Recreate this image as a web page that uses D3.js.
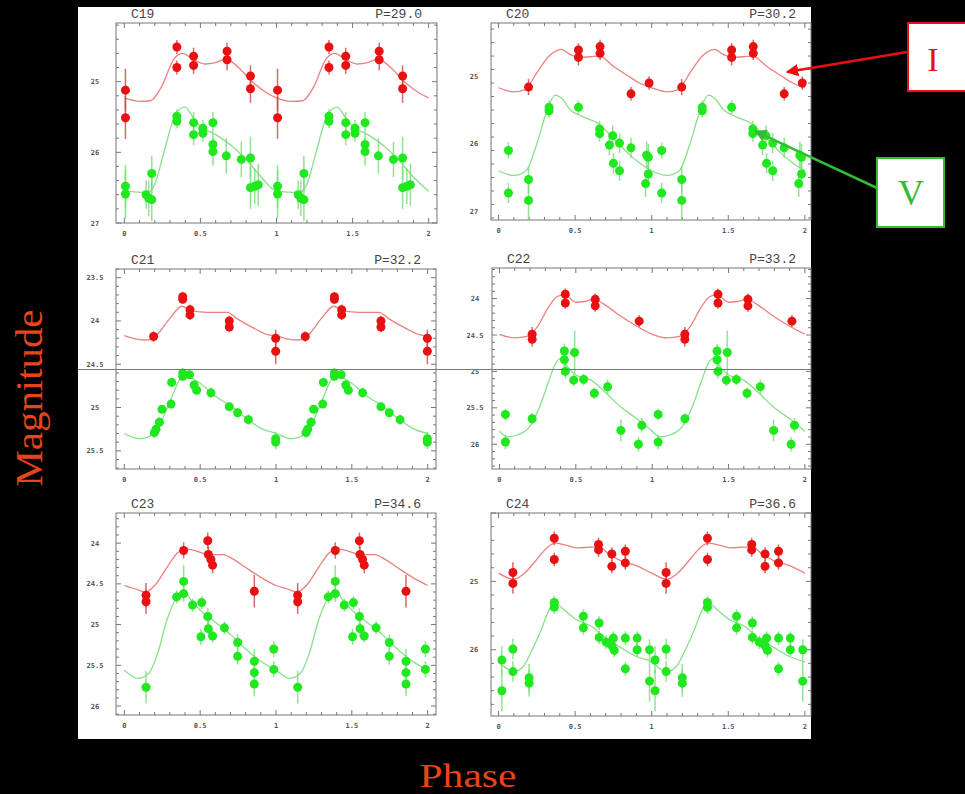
<!DOCTYPE html>
<html>
<head>
<meta charset="utf-8">
<script src="https://cdn.jsdelivr.net/npm/d3@7"></script>
<style>
  body { margin: 0; background: #000; }
  svg { display: block; }
</style>
</head>
<body>
<svg id="chart" width="965" height="794"></svg>
<script>
// star ids and periods (days)
var starNames = ["C19", "C20", "C21", "C22", "C23", "C24"];
var periods = ["29.0", "30.2", "32.2", "33.2", "34.6", "36.6"];

// magnitude range shown on each panel (top, bottom) and labelled ticks
var magRanges = [[24.17, 27], [24.21, 27.13], [23.4, 25.71], [23.58, 26.34], [23.63, 26.11], [24.0, 26.97]];
var magTicks = [[25, 26, 27], [25, 26, 27], [23.5, 24, 24.5, 25, 25.5], [24, 24.5, 25, 25.5, 26], [24, 24.5, 25, 25.5, 26], [25, 26]];
var magStep = [1, 1, 0.5, 0.5, 0.5, 1];

var phaseTicks = [0, 0.5, 1, 1.5, 2];
var phaseLabels = ["0", "0.5", "1", "1.5", "2"];

// observations: [phase, mag, error]
var c19_I = [[0.007,25.12,0.3],[0.007,25.51,0.3],[0.345,24.51,0.1],[0.345,24.80,0.1],[0.455,24.64,0.12],[0.455,24.77,0.12],[0.675,24.57,0.12],[0.675,24.69,0.15],[0.829,24.92,0.15],[0.829,25.10,0.2]];
var c19_V = [[0.007,26.48,0.3],[0.007,26.59,0.35],[0.143,26.60,0.2],[0.16,26.65,0.25],[0.18,26.67,0.3],[0.18,26.30,0.25],[0.345,25.49,0.1],[0.345,25.56,0.1],[0.455,25.58,0.15],[0.455,25.75,0.15],[0.516,25.66,0.12],[0.516,25.73,0.12],[0.582,25.58,0.15],[0.582,25.89,0.15],[0.582,25.99,0.2],[0.67,26.05,0.25],[0.769,26.10,0.25],[0.829,26.08,0.3],[0.829,26.50,0.3],[0.857,26.48,0.25],[0.88,26.46,0.3]];
var c20_I = [[0.196,25.16,0.12],[0.522,24.61,0.1],[0.522,24.72,0.12],[0.663,24.56,0.1],[0.663,24.66,0.1],[0.865,25.26,0.1],[0.983,25.10,0.1]];
var c20_V = [[0.065,26.10,0.12],[0.065,26.73,0.15],[0.196,26.53,0.2],[0.196,26.84,0.3],[0.33,25.46,0.1],[0.33,25.51,0.1],[0.522,25.46,0.1],[0.66,25.78,0.12],[0.66,25.85,0.12],[0.724,26.02,0.15],[0.746,25.88,0.15],[0.75,26.29,0.15],[0.79,25.99,0.15],[0.79,26.40,0.15],[0.865,26.06,0.15],[0.967,26.17,0.2],[0.978,26.20,0.2],[0.978,26.45,0.2],[0.96,26.59,0.2]];
var c21_I = [[0.193,24.18,0.06],[0.385,23.72,0.05],[0.385,23.75,0.05],[0.433,23.87,0.06],[0.433,23.93,0.06],[0.692,24.00,0.06],[0.692,24.07,0.06],[0.998,24.20,0.1],[0.998,24.35,0.15]];
var c21_V = [[0.198,25.29,0.06],[0.209,25.25,0.06],[0.231,25.17,0.06],[0.248,25.02,0.05],[0.308,24.96,0.05],[0.312,24.71,0.05],[0.385,24.60,0.05],[0.385,24.64,0.05],[0.43,24.62,0.05],[0.46,24.74,0.05],[0.477,24.80,0.05],[0.571,24.83,0.06],[0.692,24.99,0.05],[0.747,25.06,0.05],[0.818,25.14,0.06],[0.998,25.36,0.08],[0.998,25.40,0.08]];
var c22_I = [[0.214,24.49,0.1],[0.214,24.56,0.1],[0.431,23.94,0.08],[0.431,24.06,0.08],[0.627,24.01,0.08],[0.627,24.10,0.08],[0.915,24.31,0.08]];
var c22_V = [[0.039,25.59,0.08],[0.039,25.97,0.1],[0.214,25.65,0.08],[0.425,24.72,0.1],[0.425,24.84,0.1],[0.431,25.00,0.1],[0.492,24.74,0.3],[0.486,25.12,0.08],[0.551,25.11,0.08],[0.621,25.30,0.08],[0.708,25.21,0.1],[0.795,25.81,0.15],[0.932,25.74,0.1],[0.91,26.00,0.1]];
var c23_I = [[0.143,24.64,0.15],[0.143,24.72,0.15],[0.391,24.09,0.1],[0.55,23.97,0.1],[0.554,24.14,0.1],[0.571,24.20,0.1],[0.582,24.27,0.1],[0.857,24.59,0.2]];
var c23_V = [[0.143,25.77,0.2],[0.345,24.66,0.08],[0.391,24.62,0.1],[0.391,24.47,0.2],[0.45,24.76,0.08],[0.51,24.73,0.08],[0.505,25.15,0.1],[0.55,24.90,0.1],[0.554,25.05,0.1],[0.582,25.14,0.08],[0.66,25.04,0.08],[0.747,25.22,0.1],[0.747,25.39,0.1],[0.857,25.45,0.15],[0.857,25.59,0.15],[0.857,25.73,0.15],[0.985,25.30,0.1],[0.985,25.55,0.1]];
var c24_I = [[0.094,24.87,0.15],[0.094,25.03,0.15],[0.364,24.37,0.1],[0.364,24.68,0.1],[0.653,24.46,0.1],[0.653,24.54,0.1],[0.74,24.60,0.1],[0.74,24.78,0.1],[0.828,24.56,0.1],[0.828,24.73,0.1]];
var c24_V = [[0.022,26.15,0.2],[0.022,26.60,0.3],[0.094,25.99,0.15],[0.094,26.32,0.15],[0.2,26.41,0.2],[0.2,26.49,0.2],[0.364,25.31,0.1],[0.364,25.38,0.1],[0.554,25.51,0.1],[0.554,25.68,0.1],[0.657,25.61,0.1],[0.657,25.82,0.1],[0.703,25.89,0.1],[0.725,25.91,0.1],[0.74,25.94,0.1],[0.75,25.83,0.1],[0.756,26.01,0.1],[0.828,25.83,0.1],[0.828,26.28,0.1],[0.905,25.83,0.1],[0.905,26.00,0.1],[0.986,26.00,0.15],[0.986,26.46,0.3]];

// template fits, one cycle: [phase, mag]
var c19_Ifit = [[0,25.23],[0.1,25.28],[0.17,25.27],[0.25,25.05],[0.32,24.7],[0.38,24.6],[0.45,24.68],[0.53,24.75],[0.6,24.73],[0.67,24.68],[0.75,24.8],[0.85,25.02],[0.93,25.15]];
var c19_Vfit = [[0,26.55],[0.15,26.57],[0.2,26.45],[0.26,26.0],[0.32,25.55],[0.37,25.38],[0.4,25.36],[0.45,25.5],[0.5,25.63],[0.6,25.75],[0.7,25.9],[0.8,26.1],[0.9,26.35]];
var c20_Ifit = [[0,25.17],[0.1,25.23],[0.17,25.2],[0.25,24.95],[0.33,24.7],[0.41,24.6],[0.47,24.68],[0.53,24.72],[0.6,24.71],[0.66,24.7],[0.75,24.85],[0.85,25.0],[0.92,25.1]];
var c20_Vfit = [[0,26.4],[0.1,26.47],[0.18,26.4],[0.25,26.0],[0.31,25.55],[0.37,25.28],[0.41,25.32],[0.47,25.5],[0.55,25.6],[0.65,25.7],[0.75,25.92],[0.85,26.15],[0.93,26.3]];
var c21_Ifit = [[0,24.17],[0.08,24.21],[0.15,24.22],[0.22,24.15],[0.3,23.97],[0.38,23.83],[0.44,23.88],[0.55,23.9],[0.68,23.9],[0.74,23.97],[0.85,24.08],[0.95,24.16]];
var c21_Vfit = [[0,25.3],[0.1,25.36],[0.2,25.3],[0.26,25.1],[0.32,24.85],[0.38,24.65],[0.44,24.66],[0.5,24.72],[0.6,24.87],[0.7,24.98],[0.8,25.12],[0.9,25.24]];
var c22_Ifit = [[0,24.49],[0.1,24.54],[0.18,24.52],[0.25,24.38],[0.32,24.12],[0.38,23.97],[0.43,23.95],[0.5,24.05],[0.56,24.04],[0.62,24.01],[0.7,24.1],[0.8,24.25],[0.9,24.38]];
var c22_Vfit = [[0,25.82],[0.05,25.9],[0.12,25.87],[0.2,25.75],[0.26,25.5],[0.32,25.15],[0.37,24.88],[0.4,24.82],[0.44,24.92],[0.5,25.05],[0.6,25.12],[0.7,25.3],[0.8,25.5],[0.9,25.65]];
var c23_Ifit = [[0,24.52],[0.07,24.56],[0.14,24.6],[0.2,24.52],[0.28,24.3],[0.35,24.12],[0.41,24.07],[0.48,24.1],[0.55,24.14],[0.65,24.14],[0.72,24.2],[0.8,24.3],[0.9,24.42]];
var c23_Vfit = [[0,25.56],[0.09,25.66],[0.16,25.6],[0.22,25.35],[0.28,24.95],[0.34,24.68],[0.39,24.57],[0.44,24.7],[0.5,24.82],[0.6,24.97],[0.7,25.12],[0.8,25.3],[0.9,25.45]];
var c24_Ifit = [[0,24.88],[0.1,24.97],[0.17,24.88],[0.25,24.68],[0.32,24.5],[0.37,24.44],[0.44,24.47],[0.52,24.51],[0.6,24.5],[0.66,24.5],[0.72,24.6],[0.8,24.7],[0.9,24.77]];
var c24_Vfit = [[0,26.18],[0.05,26.27],[0.1,26.32],[0.16,26.25],[0.22,26.0],[0.28,25.7],[0.33,25.42],[0.37,25.32],[0.43,25.42],[0.5,25.55],[0.6,25.65],[0.7,25.83],[0.8,25.97],[0.9,26.1]];

var obsI = [c19_I, c20_I, c21_I, c22_I, c23_I, c24_I];
var obsV = [c19_V, c20_V, c21_V, c22_V, c23_V, c24_V];
var fitI = [c19_Ifit, c20_Ifit, c21_Ifit, c22_Ifit, c23_Ifit, c24_Ifit];
var fitV = [c19_Vfit, c20_Vfit, c21_Vfit, c22_Vfit, c23_Vfit, c24_Vfit];

// panel frames in pixels [left, right, top, bottom] and phase domain per column
var frames = [[116,437,23,223],[491,811,23,220],[116,436,269,469],[492,811,268,469],[116,436,513,715],[491,811,513,716]];
var colDomain = [[-0.055, 2.055], [-0.049, 2.04]];

var svg = d3.select("#chart");

// white page area
svg.append("rect").attr("x", 78).attr("y", 7).attr("width", 733).attr("height", 732).attr("fill", "#fff");

var defs = svg.append("defs");

// repeat one cycle into two
function twoCycles(pts) {
    var out = [];
    pts.forEach(function(p) { out.push(p.slice()); });
    pts.forEach(function(p) { var q = p.slice(); q[0] += 1; out.push(q); });
    return out;
}
function fitTwoCycles(pts) {
    var out = twoCycles(pts);
    var q = pts[0].slice(); q[0] = 2; out.push(q);
    return out;
}

frames.forEach(function(f, i) {
    var col = i % 2;
    var x = d3.scaleLinear().domain(colDomain[col]).range([f[0], f[1]]);
    var y = d3.scaleLinear().domain(magRanges[i]).range([f[2], f[3]]);
    var g = svg.append("g");

    defs.append("clipPath").attr("id", "clip" + i)
        .append("rect").attr("x", f[0]).attr("y", f[2])
        .attr("width", f[1] - f[0]).attr("height", f[3] - f[2]);

    // ticks on all four sides
    var minorX = d3.range(0, 2.0001, 0.1);
    var minorY = d3.range(Math.ceil(magRanges[i][0] * 10) / 10, magRanges[i][1], magStep[i] / 5);
    var tg = g.append("g").attr("stroke", "#777").attr("stroke-width", 1);
    minorX.forEach(function(v) {
        var major = Math.abs(v * 2 - Math.round(v * 2)) < 1e-6;
        var len = major ? 5 : 3;
        var px = x(v);
        tg.append("line").attr("x1", px).attr("x2", px).attr("y1", f[3]).attr("y2", f[3] - len);
        tg.append("line").attr("x1", px).attr("x2", px).attr("y1", f[2]).attr("y2", f[2] + len);
    });
    minorY.forEach(function(v) {
        var r = v / magStep[i];
        var major = Math.abs(r - Math.round(r)) < 1e-4;
        var len = major ? 5 : 3;
        var py = y(v);
        tg.append("line").attr("x1", f[0]).attr("x2", f[0] + len).attr("y1", py).attr("y2", py);
        tg.append("line").attr("x1", f[1]).attr("x2", f[1] - len).attr("y1", py).attr("y2", py);
    });

    g.append("rect").attr("x", f[0]).attr("y", f[2])
        .attr("width", f[1] - f[0]).attr("height", f[3] - f[2])
        .attr("fill", "none").attr("stroke", "#777").attr("stroke-width", 1);

    // tick labels
    g.selectAll(".xl").data(phaseTicks).enter().append("text")
        .attr("x", function(d) { return x(d); })
        .attr("y", f[3] + 13)
        .attr("text-anchor", "middle")
        .style("font", "bold 7px 'DejaVu Sans Mono'")
        .attr("fill", "#555")
        .text(function(d, k) { return phaseLabels[k]; });
    g.selectAll(".yl").data(magTicks[i]).enter().append("text")
        .attr("x", f[0] - (col ? 17 : 21))
        .attr("y", function(d) { return y(d) + 2.5; })
        .attr("text-anchor", "middle")
        .style("font", "bold 7px 'DejaVu Sans Mono'")
        .attr("fill", "#555")
        .text(function(d) { return String(d); });

    // titles
    g.append("text").attr("x", f[0] + 15).attr("y", f[2] - 5)
        .style("font", "13px 'Liberation Mono'").attr("fill", "#444")
        .text(starNames[i]);
    g.append("text").attr("x", f[1] - 15).attr("y", f[2] - 5)
        .attr("text-anchor", "end")
        .style("font", "13px 'Liberation Mono'").attr("fill", "#444")
        .text("P=" + periods[i]);

    var plot = g.append("g").attr("clip-path", "url(#clip" + i + ")");
    var line = d3.line()
        .x(function(d) { return x(d[0]); })
        .y(function(d) { return y(d[1]); })
        .curve(d3.curveMonotoneX);

    var bands = [
        { obs: obsV[i], fit: fitV[i], dot: "#1fe81f", bar: "#77dd77", curve: "#88e088" },
        { obs: obsI[i], fit: fitI[i], dot: "#e81010", bar: "#cc4444", curve: "#ec8080" }
    ];
    bands.forEach(function(b) {
        plot.append("path").datum(fitTwoCycles(b.fit))
            .attr("d", line).attr("fill", "none")
            .attr("stroke", b.curve).attr("stroke-width", 1.3);
        var pts = twoCycles(b.obs);
        plot.selectAll(null).data(pts).enter().append("line")
            .attr("x1", function(d) { return x(d[0]); })
            .attr("x2", function(d) { return x(d[0]); })
            .attr("y1", function(d) { return y(d[1] - d[2]); })
            .attr("y2", function(d) { return y(d[1] + d[2]); })
            .attr("stroke", b.bar).attr("stroke-width", 1.5).attr("opacity", 0.8);
        plot.selectAll(null).data(pts).enter().append("circle")
            .attr("cx", function(d) { return x(d[0]); })
            .attr("cy", function(d) { return y(d[1]); })
            .attr("r", 4.5)
            .attr("fill", b.dot);
    });
});

// stray rule across the middle row
svg.append("line").attr("x1", 78).attr("x2", 811).attr("y1", 369.5).attr("y2", 369.5)
    .attr("stroke", "#777").attr("stroke-width", 1);

// axis titles
svg.append("text")
    .attr("transform", "translate(42,398) rotate(-90)")
    .attr("text-anchor", "middle")
    .attr("textLength", 177).attr("lengthAdjust", "spacingAndGlyphs")
    .style("font", "38px 'Liberation Serif'")
    .attr("fill", "#e8441c")
    .text("Magnitude");
svg.append("text")
    .attr("x", 468).attr("y", 787)
    .attr("text-anchor", "middle")
    .attr("textLength", 97).attr("lengthAdjust", "spacingAndGlyphs")
    .style("font", "34px 'Liberation Serif'")
    .attr("fill", "#e8441c")
    .text("Phase");

// I / V call-outs
function arrowHead(id, color) {
    defs.append("marker").attr("id", id)
        .attr("viewBox", "0 0 10 10").attr("refX", 9).attr("refY", 5)
        .attr("markerWidth", 5).attr("markerHeight", 5).attr("orient", "auto")
        .append("path").attr("d", "M0,0 L10,5 L0,10 z").attr("fill", color);
}
arrowHead("arrI", "#e81010");
arrowHead("arrV", "#33bb33");

svg.append("rect").attr("x", 908).attr("y", 23).attr("width", 60).attr("height", 68)
    .attr("fill", "#fff").attr("stroke", "#e81010").attr("stroke-width", 2);
svg.append("text").attr("x", 933).attr("y", 71).attr("text-anchor", "middle")
    .style("font", "34px 'Liberation Serif'").attr("fill", "#e81010").text("I");
svg.append("line").attr("x1", 907).attr("y1", 52).attr("x2", 787).attr("y2", 72)
    .attr("stroke", "#e81010").attr("stroke-width", 2.5).attr("marker-end", "url(#arrI)");

svg.append("rect").attr("x", 877).attr("y", 158).attr("width", 67).attr("height", 69)
    .attr("fill", "#fff").attr("stroke", "#33bb33").attr("stroke-width", 2);
svg.append("text").attr("x", 911).attr("y", 205).attr("text-anchor", "middle")
    .style("font", "36px 'Liberation Serif'").attr("fill", "#33bb33").text("V");
svg.append("line").attr("x1", 877).attr("y1", 188).attr("x2", 755).attr("y2", 131)
    .attr("stroke", "#33bb33").attr("stroke-width", 2.5).attr("marker-end", "url(#arrV)");
</script>
</body>
</html>
